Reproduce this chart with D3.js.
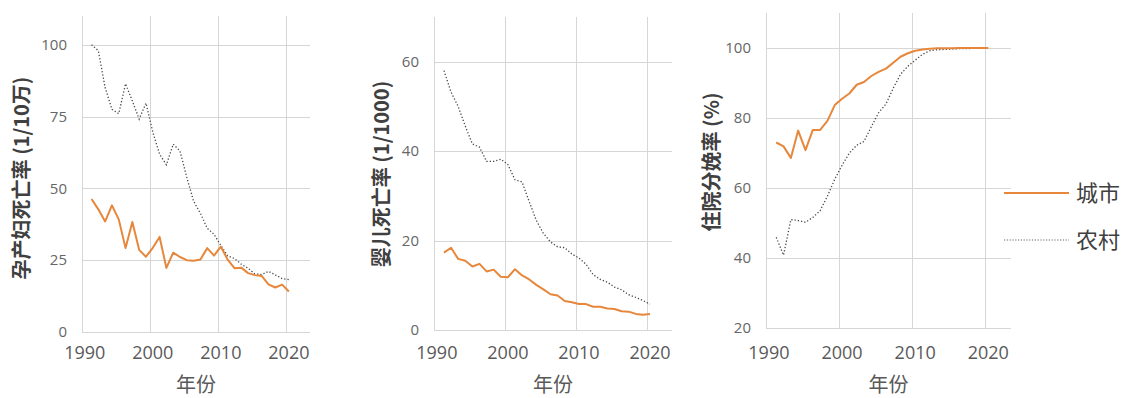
<!DOCTYPE html>
<html><head><meta charset="utf-8">
<script src="https://cdn.jsdelivr.net/npm/d3@7"></script>
<style>body{margin:0;background:#fff} svg{display:block}</style>
</head><body><svg id="c" width="1127" height="398"></svg>
<script>
const years = [1991,1992,1993,1994,1995,1996,1997,1998,1999,2000,2001,2002,2003,2004,2005,2006,2007,2008,2009,2010,2011,2012,2013,2014,2015,2016,2017,2018,2019,2020];

// 孕产妇死亡率 (1/10万)
const mmrUrban = [46.3,42.7,38.5,44.1,39.2,29.2,38.3,28.6,26.2,29.3,33.1,22.3,27.6,26.1,25.0,24.8,25.2,29.2,26.6,29.7,25.2,22.2,22.4,20.5,19.8,19.5,16.6,15.5,16.5,14.1];
const mmrRural = [100.0,97.9,85.1,77.5,76.0,86.4,80.4,74.1,79.7,69.6,61.9,58.2,65.4,63.0,53.8,45.5,41.3,36.1,34.0,30.1,26.5,25.6,23.6,22.2,20.2,20.0,21.1,19.9,18.6,18.2];

// 婴儿死亡率 (1/1000)
const imrUrban = [17.3,18.4,15.9,15.5,14.2,14.8,13.1,13.5,11.9,11.8,13.6,12.2,11.3,10.1,9.1,8.0,7.7,6.5,6.2,5.8,5.8,5.2,5.2,4.8,4.7,4.2,4.1,3.6,3.4,3.6];
const imrRural = [58.0,53.2,50.0,45.6,41.6,40.9,37.7,37.7,38.2,37.0,33.6,33.1,28.7,24.5,21.6,19.7,18.6,18.4,17.0,16.1,14.7,12.4,11.3,10.7,9.6,9.0,7.9,7.3,6.6,5.8];

// 住院分娩率 (%)
const hdrUrban = [73.0,71.9,68.6,76.4,70.8,76.6,76.6,79.2,83.7,85.5,87.0,89.5,90.3,92.0,93.2,94.1,95.8,97.5,98.5,99.2,99.6,99.8,99.9,99.9,99.9,100.0,100.0,100.0,100.0,100.0];
const hdrRural = [45.9,40.8,51.0,50.7,50.2,51.6,53.5,57.7,62.5,66.5,70.0,72.2,73.3,77.5,81.5,84.0,88.5,92.5,94.8,96.5,98.2,99.2,99.5,99.6,99.7,99.8,99.8,99.9,99.9,99.9];

const xTickLabels = [1990,2000,2010,2020];
const mmrTicks = [0,25,50,75,100];
const imrTicks = [0,20,40,60];
const hdrTicks = [20,40,60,80,100];

const titles = ["孕产妇死亡率 (1/10万)","婴儿死亡率 (1/1000)","住院分娩率 (%)"];
const xTitle = "年份";
const legendLabels = ["城市","农村"];

const URBAN = "#E6873C", RURAL = "#4a4a4a", GRID = "#d6d6d6";
const numFont = "'Open Sans','Liberation Sans',sans-serif";
const cjkFont = "'Noto Sans CJK SC','Noto Sans',sans-serif";

const panels = [
  {title:titles[0], urban:mmrUrban, rural:mmrRural, yDomain:[0,110], yTicks:mmrTicks, L:82, R:310, T:16, B:332, tx:22, ty:178},
  {title:titles[1], urban:imrUrban, rural:imrRural, yDomain:[0,70], yTicks:imrTicks, L:434, R:672, T:17, B:330, tx:382, ty:174},
  {title:titles[2], urban:hdrUrban, rural:hdrRural, yDomain:[20,110], yTicks:hdrTicks, L:766, R:1011, T:13, B:328, tx:712, ty:162}
];

const svg = d3.select("#c");

panels.forEach(p => {
  const g = svg.append("g");
  const xg = d3.scaleLinear().domain([1990, 2023.5]).range([p.L, p.R]);   // grid positions
  const x  = d3.scaleLinear().domain([1989.6, 2023.1]).range([p.L, p.R]); // data / label positions
  const y  = d3.scaleLinear().domain(p.yDomain).range([p.B, p.T]);

  g.append("g").selectAll("line").data(p.yTicks).join("line")
    .attr("x1", p.L).attr("x2", p.R)
    .attr("y1", d => Math.round(y(d)) + 0.5).attr("y2", d => Math.round(y(d)) + 0.5)
    .attr("stroke", GRID).attr("stroke-width", 1);
  g.append("g").selectAll("line").data(xTickLabels).join("line")
    .attr("x1", d => Math.round(xg(d)) + 0.5).attr("x2", d => Math.round(xg(d)) + 0.5)
    .attr("y1", p.T).attr("y2", y(p.yDomain[0]))
    .attr("stroke", GRID).attr("stroke-width", 1);

  g.append("g").selectAll("text").data(p.yTicks).join("text")
    .attr("x", p.L - 15).attr("y", d => y(d)).attr("dy", "0.35em")
    .attr("text-anchor", "end").attr("font-family", numFont).attr("font-size", 15)
    .attr("fill", "#666").text(d => d);
  g.append("g").selectAll("text").data(xTickLabels).join("text")
    .attr("x", d => x(d)).attr("y", 353).attr("dy", "0.35em")
    .attr("text-anchor", "middle").attr("font-family", numFont).attr("font-size", 18)
    .attr("fill", "#595959").text(d => d);

  g.append("text").attr("x", (p.L + p.R) / 2).attr("y", 385).attr("dy", "0.35em")
    .attr("text-anchor", "middle").attr("font-family", cjkFont).attr("font-size", 20)
    .attr("fill", "#595959").text(xTitle);
  g.append("text").attr("transform", `translate(${p.tx},${p.ty}) rotate(-90)`)
    .attr("dy", "0.35em").attr("text-anchor", "middle")
    .attr("font-family", cjkFont).attr("font-size", 20).attr("font-weight", "bold")
    .attr("fill", "#404040").text(p.title);

  const line = d3.line().x((d, i) => x(years[i])).y(d => y(d));
  g.append("path").datum(p.rural).attr("d", line).attr("fill", "none")
    .attr("stroke", RURAL).attr("stroke-width", 1.3).attr("stroke-dasharray", "1.3,2");
  g.append("path").datum(p.urban).attr("d", line).attr("fill", "none")
    .attr("stroke", URBAN).attr("stroke-width", 2).attr("stroke-linejoin", "round");
});

const lg = svg.append("g");
const legY = [193, 240];
lg.append("line").attr("x1", 1004).attr("x2", 1069).attr("y1", legY[0]).attr("y2", legY[0])
  .attr("stroke", URBAN).attr("stroke-width", 1.8);
lg.append("line").attr("x1", 1004).attr("x2", 1069).attr("y1", legY[1]).attr("y2", legY[1])
  .attr("stroke", "#666").attr("stroke-width", 1.2).attr("stroke-dasharray", "1.2,1.6");
lg.selectAll("text").data(legendLabels).join("text")
  .attr("x", 1076).attr("y", (d, i) => legY[i]).attr("dy", "0.35em")
  .attr("font-family", cjkFont).attr("font-size", 22).attr("fill", "#404040").text(d => d);
</script></body></html>
